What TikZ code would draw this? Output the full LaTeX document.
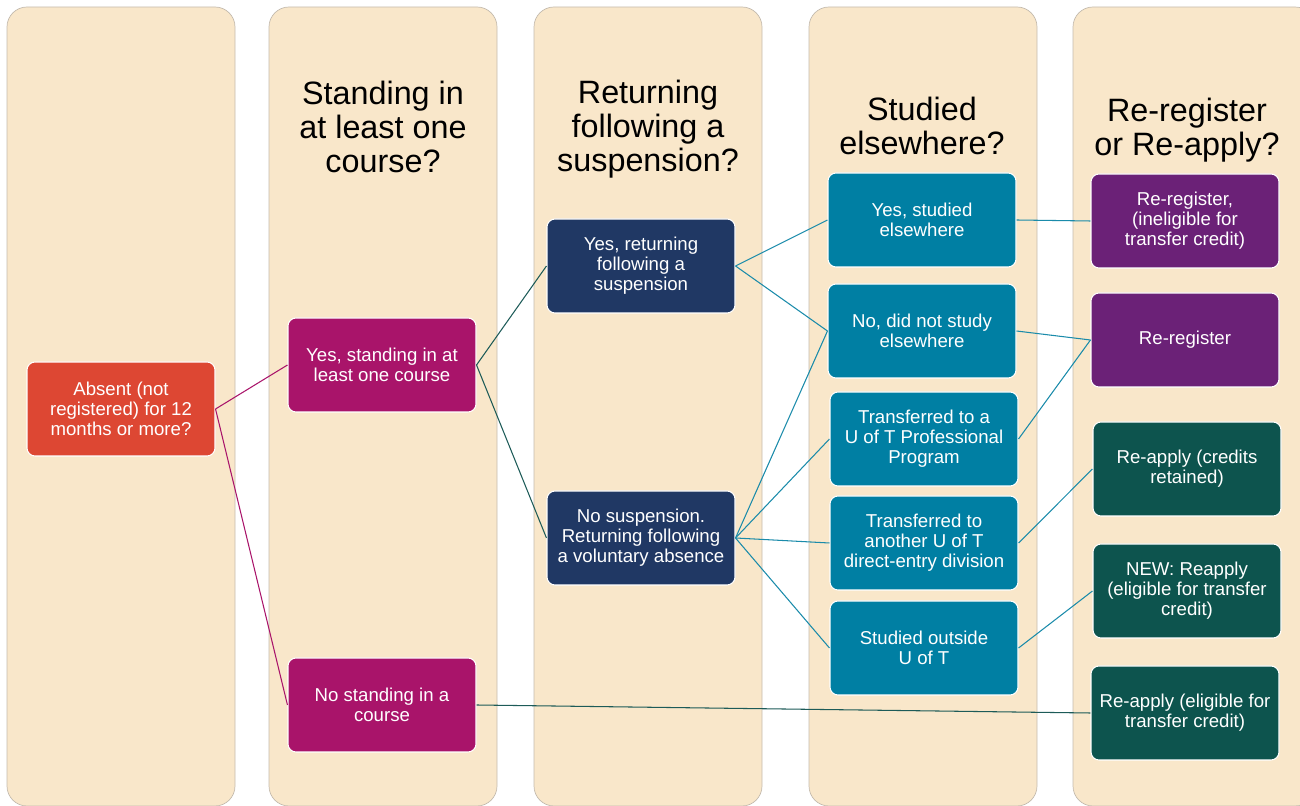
\documentclass[tikz,border=0pt]{standalone}
\usepackage{fontspec}
\setmainfont{Liberation Sans}
\definecolor{colbg}{HTML}{F9E7CA}
\definecolor{colline}{HTML}{C4BBAE}
\definecolor{absentred}{HTML}{DD4733}
\definecolor{standmag}{HTML}{A9146A}
\definecolor{suspnavy}{HTML}{203864}
\definecolor{elseteal}{HTML}{007FA3}
\definecolor{regpurple}{HTML}{6B2177}
\definecolor{applygreen}{HTML}{0D544E}
\definecolor{linkteal}{HTML}{1A8BAA}
\definecolor{linkdark}{HTML}{1D5B58}

\begin{document}
\begin{tikzpicture}[
        column/.style={fill=colbg, draw=colline, line width=0.4pt, rounded corners=0.4cm},
        heading/.style={align=center, font=\fontsize{18.4}{19.3}\selectfont},
        box/.style={draw=white, line width=0.6pt, rounded corners=0.16cm, minimum width=3.76cm,
                minimum height=1.88cm, align=center, text=white,
                font=\fontsize{10.6}{11.4}\selectfont, inner sep=0pt},
        link/.style={line width=0.6pt}
    ]
        \useasboundingbox (0, 0) rectangle (26, -16.12);

        % column panels
        \draw[column] (0.14, -0.14) rectangle (4.70, -16.12);
        \draw[column] (5.38, -0.14) rectangle (9.94, -16.12);
        \draw[column] (10.68, -0.14) rectangle (15.24, -16.12);
        \draw[column] (16.18, -0.14) rectangle (20.74, -16.12);
        \draw[column] (21.46, -0.14) rectangle (26.30, -16.12);

        \node[heading] (hstand) at (7.66, -2.54) {Standing in\\at least one\\course?};
        \node[heading] (hsusp) at (12.96, -2.58) {Returning\\following a\\suspension?};
        \node[heading] (helse) at (18.44, -2.52) {Studied\\elsewhere?};
        \node[heading] (hreg) at (23.74, -2.60) {Re-register\\or Re-apply?};

        \node[box, fill=absentred] (absent) at (2.42, -8.18) {Absent (not\\registered) for 12\\months or more?};
        \node[box, fill=standmag] (yesstand) at (7.64, -7.30) {Yes, standing in at\\least one course};
        \node[box, fill=standmag] (nostand) at (7.64, -14.10) {No standing in a\\course};
        \node[box, fill=suspnavy] (yessusp) at (12.82, -5.32) {Yes, returning\\following a\\suspension};
        \node[box, fill=suspnavy] (nosusp) at (12.82, -10.76) {No suspension.\\Returning following\\a voluntary absence};
        \node[box, fill=elseteal] (yesel) at (18.44, -4.40) {Yes, studied\\elsewhere};
        \node[box, fill=elseteal] (noel) at (18.44, -6.62) {No, did not study\\elsewhere};
        \node[box, fill=elseteal] (transprof) at (18.48, -8.78) {Transferred to a\\U of T Professional\\Program};
        \node[box, fill=elseteal] (transother) at (18.48, -10.86) {Transferred to\\another U of T\\direct-entry division};
        \node[box, fill=elseteal] (outside) at (18.48, -12.96) {Studied outside\\U of T};
        \node[box, fill=regpurple] (reregcred) at (23.70, -4.42) {Re-register,\\(ineligible for\\transfer credit)};
        \node[box, fill=regpurple] (rereg) at (23.70, -6.80) {Re-register};
        \node[box, fill=applygreen] (reapkept) at (23.74, -9.38) {Re-apply (credits\\retained)};
        \node[box, fill=applygreen] (newapply) at (23.74, -11.82) {NEW: Reapply\\(eligible for transfer\\credit)};
        \node[box, fill=applygreen] (reapelig) at (23.70, -14.26) {Re-apply (eligible for\\transfer credit)};

        \draw[link, standmag] (absent.east) -- (yesstand.west);
        \draw[link, standmag] (absent.east) -- (nostand.west);
        \draw[link, linkdark] (yesstand.east) -- (yessusp.west);
        \draw[link, linkdark] (yesstand.east) -- (nosusp.west);
        \draw[link, linkdark] (nostand.east) -- (reapelig.west);
        \draw[link, linkteal] (yessusp.east) -- (yesel.west);
        \draw[link, linkteal] (yessusp.east) -- (noel.west);
        \draw[link, linkteal] (nosusp.east) -- (noel.west);
        \draw[link, linkteal] (nosusp.east) -- (transprof.west);
        \draw[link, linkteal] (nosusp.east) -- (transother.west);
        \draw[link, linkteal] (nosusp.east) -- (outside.west);
        \draw[link, linkteal] (yesel.east) -- (reregcred.west);
        \draw[link, linkteal] (noel.east) -- (rereg.west);
        \draw[link, linkteal] (transprof.east) -- (rereg.west);
        \draw[link, linkteal] (transother.east) -- (reapkept.west);
        \draw[link, linkteal] (outside.east) -- (newapply.west);
      \end{tikzpicture}
\end{document}
